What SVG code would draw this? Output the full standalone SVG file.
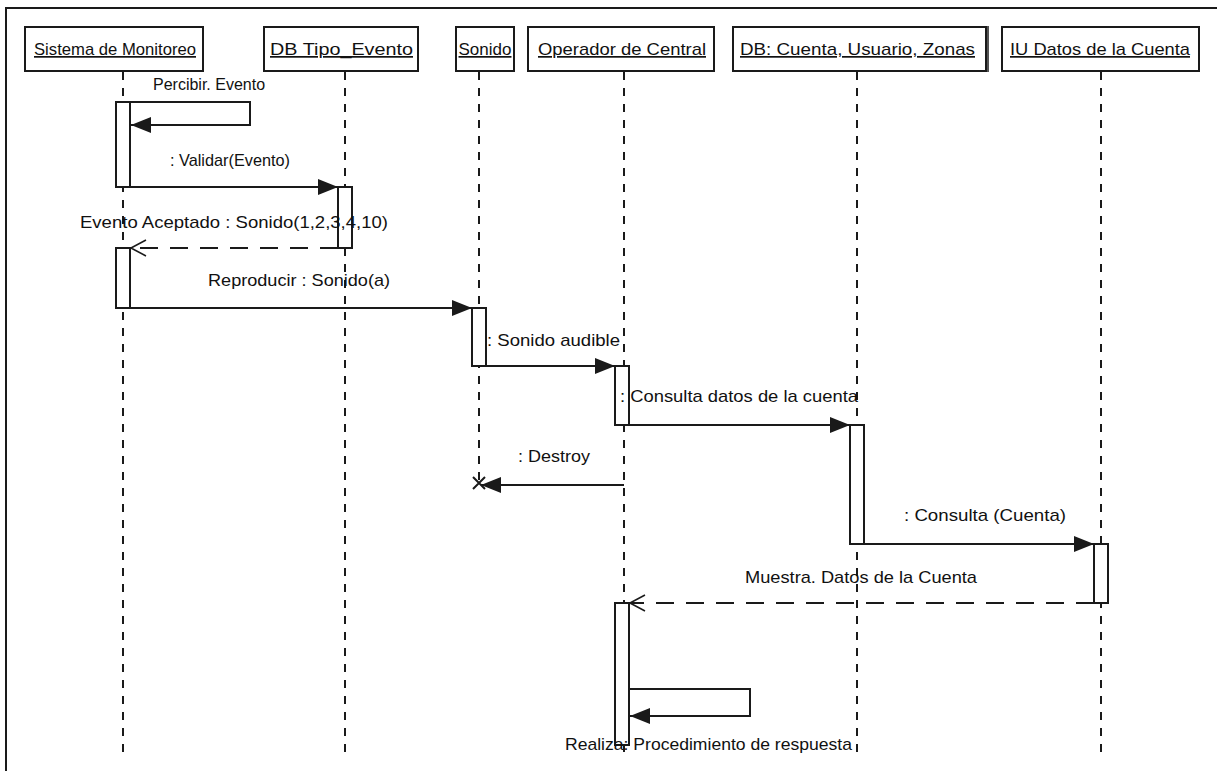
<svg xmlns="http://www.w3.org/2000/svg" width="1217" height="771" viewBox="0 0 1217 771">
  <style>
    .frame { fill: none; stroke: #1a1a1a; stroke-width: 2; }
    .head rect { fill: #ffffff; stroke: #1a1a1a; stroke-width: 2; }
    .head text { font-family: "Liberation Sans", Arial, sans-serif; font-size: 17px; fill: #111; text-decoration: underline; }
    .life { stroke: #1a1a1a; stroke-width: 2; stroke-dasharray: 8 8; fill: none; }
    .act { fill: #ffffff; stroke: #1a1a1a; stroke-width: 2; }
    .msg { stroke: #1a1a1a; stroke-width: 2; fill: none; }
    .ret { stroke: #1a1a1a; stroke-width: 2; fill: none; stroke-dasharray: 18 12; }
    .lbl { font-family: "Liberation Sans", Arial, sans-serif; font-size: 17px; fill: #111; }
  </style>
  <defs>
    <marker id="filled" markerWidth="22" markerHeight="16" refX="20" refY="8" orient="auto" markerUnits="userSpaceOnUse">
      <path d="M0,0 L20,8 L0,16 Z" fill="#1a1a1a"/>
    </marker>
    <marker id="open" markerWidth="22" markerHeight="18" refX="20" refY="9" orient="auto" markerUnits="userSpaceOnUse">
      <path d="M20,9 L5,1 M20,9 L5,17" fill="none" stroke="#1a1a1a" stroke-width="1.5"/>
    </marker>
  </defs>

  <rect width="1217" height="771" fill="#ffffff"/>
  <!-- diagram frame -->
  <path class="frame" d="M6,775 L6,8 L1220,8"/>

  <!-- lifelines -->
  <g id="lifelines">
    <line class="life" x1="123" y1="72" x2="123" y2="752"/>
    <line class="life" x1="345" y1="72" x2="345" y2="752"/>
    <line class="life" x1="479" y1="72" x2="479" y2="482"/>
    <line class="life" x1="624" y1="72" x2="624" y2="752"/>
    <line class="life" x1="857" y1="72" x2="857" y2="752"/>
    <line class="life" x1="1101" y1="72" x2="1101" y2="752"/>
  </g>

  <!-- participant heads -->
  <g id="sistema" class="head">
    <rect x="25" y="27" width="178" height="44"/>
    <text x="34" y="55" textLength="162" lengthAdjust="spacingAndGlyphs">Sistema de Monitoreo</text>
  </g>
  <g id="db-tipo" class="head">
    <rect x="264" y="27" width="154" height="44"/>
    <text x="270" y="55" textLength="143" lengthAdjust="spacingAndGlyphs">DB Tipo_Evento</text>
  </g>
  <g id="sonido" class="head">
    <rect x="456" y="27" width="58" height="44"/>
    <text x="485" y="55" text-anchor="middle">Sonido</text>
  </g>
  <g id="operador" class="head">
    <rect x="528" y="27" width="186" height="44"/>
    <text x="538" y="55" textLength="168" lengthAdjust="spacingAndGlyphs">Operador de Central</text>
  </g>
  <g id="db-cuenta" class="head">
    <rect x="733" y="27" width="253" height="44"/>
    <line x1="988" y1="26" x2="988" y2="72" stroke="#1a1a1a" stroke-width="1.5"/>
    <text x="740" y="55" textLength="235" lengthAdjust="spacingAndGlyphs">DB: Cuenta, Usuario, Zonas</text>
  </g>
  <g id="iu-datos" class="head">
    <rect x="1002" y="27" width="197" height="44"/>
    <text x="1010" y="55" textLength="180" lengthAdjust="spacingAndGlyphs">IU Datos de la Cuenta</text>
  </g>

  <!-- activation bars -->
  <g id="activations">
    <rect class="act" x="116" y="102" width="14" height="85"/>
    <rect class="act" x="338" y="187" width="14" height="61"/>
    <rect class="act" x="116" y="248" width="14" height="60"/>
    <rect class="act" x="472" y="308" width="14" height="58"/>
    <rect class="act" x="615" y="366" width="14" height="59"/>
    <rect class="act" x="850" y="425" width="14" height="119"/>
    <rect class="act" x="1094" y="544" width="14" height="59"/>
    <rect class="act" x="615" y="603" width="14" height="142"/>
  </g>

  <!-- messages -->
  <g id="connectors">
    <path class="msg" d="M130,102 L250,102 L250,125 L131,125" marker-end="url(#filled)"/>
    <line class="msg" x1="116" y1="187" x2="338" y2="187" marker-end="url(#filled)"/>
    <line class="ret" x1="338" y1="248" x2="131" y2="248" marker-end="url(#open)"/>
    <line class="msg" x1="116" y1="308" x2="472" y2="308" marker-end="url(#filled)"/>
    <line class="msg" x1="472" y1="366" x2="615" y2="366" marker-end="url(#filled)"/>
    <line class="msg" x1="615" y1="425" x2="850" y2="425" marker-end="url(#filled)"/>
    <line class="msg" x1="624" y1="485" x2="481" y2="485" marker-end="url(#filled)"/>
    <path class="msg" d="M473,477 L485,489 M485,477 L473,489" stroke-width="1.5"/>
    <line class="msg" x1="850" y1="544" x2="1094" y2="544" marker-end="url(#filled)"/>
    <line class="ret" x1="1094" y1="603" x2="630" y2="603" marker-end="url(#open)"/>
    <path class="msg" d="M629,689 L750,689 L750,716 L630,716" marker-end="url(#filled)"/>
  </g>

  <!-- message labels -->
  <g id="labels" class="lbl">
    <text x="153" y="90" style="font-size:16px">Percibir. Evento</text>
    <text x="170" y="166" textLength="120" lengthAdjust="spacingAndGlyphs">: Validar(Evento)</text>
    <text x="80" y="228" textLength="308" lengthAdjust="spacingAndGlyphs">Evento Aceptado : Sonido(1,2,3,4,10)</text>
    <text x="208" y="286" textLength="182" lengthAdjust="spacingAndGlyphs">Reproducir : Sonido(a)</text>
    <text x="487" y="346" textLength="133" lengthAdjust="spacingAndGlyphs">: Sonido audible</text>
    <text x="620" y="402" textLength="238" lengthAdjust="spacingAndGlyphs">: Consulta datos de la cuenta</text>
    <text x="518" y="462" textLength="72" lengthAdjust="spacingAndGlyphs">: Destroy</text>
    <text x="904" y="521" textLength="162" lengthAdjust="spacingAndGlyphs">: Consulta (Cuenta)</text>
    <text x="745" y="583" textLength="232" lengthAdjust="spacingAndGlyphs">Muestra. Datos de la Cuenta</text>
    <text x="565" y="750" textLength="287" lengthAdjust="spacingAndGlyphs">Realiza: Procedimiento de respuesta</text>
  </g>
</svg>
